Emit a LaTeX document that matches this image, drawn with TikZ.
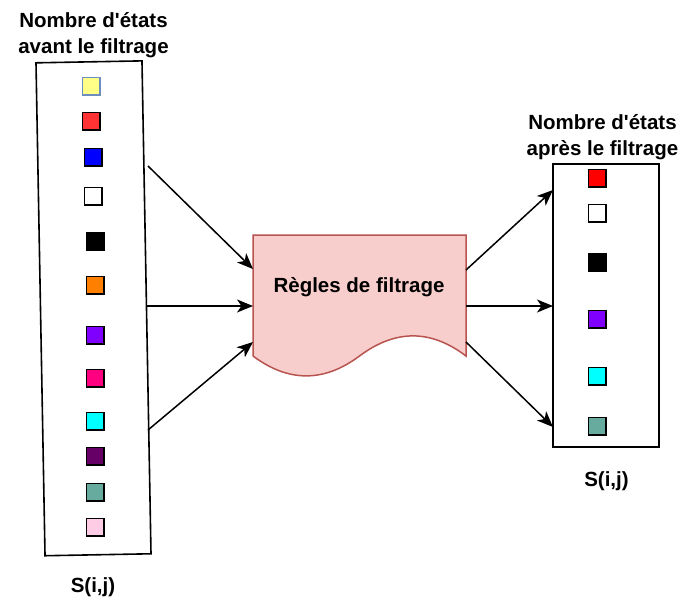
\documentclass[tikz,border=0pt]{standalone}
\usepackage{fontspec}
\setmainfont{Liberation Sans}
\usetikzlibrary{arrows.meta}
\definecolor{docfill}{HTML}{F8CECC}
\definecolor{docdraw}{HTML}{B85450}
\definecolor{cyel}{HTML}{FFFF88}
\definecolor{cyelb}{HTML}{6C8EBF}
\definecolor{cred}{HTML}{FF3333}
\definecolor{cred2}{HTML}{FF0000}
\definecolor{cblue}{HTML}{0000FF}
\definecolor{corange}{HTML}{FF8000}
\definecolor{cpurple}{HTML}{7F00FF}
\definecolor{cmag}{HTML}{FF0080}
\definecolor{ccyan}{HTML}{00FFFF}
\definecolor{cdpurple}{HTML}{660066}
\definecolor{cteal}{HTML}{67AB9F}
\definecolor{cpink}{HTML}{FFCCE6}
\tikzset{
  sq/.style={draw=black, line width=1.5pt, minimum size=17.5pt, inner sep=0pt},
  lbl/.style={font=\fontsize{20.5}{26}\selectfont\bfseries, align=center, inner sep=0pt},
  arr/.style={line width=1.5pt, -{Stealth[length=16pt,width=13pt,inset=4.5pt]}},
  boxst/.style={draw=black, line width=1.6pt, fill=white, inner sep=0pt}
}
\begin{document}
\begin{tikzpicture}[x=1pt,y=-1pt]
\useasboundingbox (0,0) rectangle (689,603);
% left box (slightly rotated)
\node[boxst, minimum width=106pt, minimum height=493pt, rotate=1.05] (lbox) at (93.5,308.3) {};
% right box
\node[boxst, minimum width=106pt, minimum height=283pt] (rbox) at (606,305.5) {};
% document shape
\path[draw=docdraw, fill=docfill, line width=1.5pt]
  (253,235) coordinate (dtl) -- (466,235) coordinate (dtr) -- (466,356)
  .. controls (430.8,329.2) and (395.3,329.2) .. (359.5,356)
  .. controls (324,382.5) and (288.5,382.5) .. (253,356) -- cycle;
\node[lbl] (doc) at (359,287) {Règles de filtrage};
% labels
\node[lbl] (tl) at (93.5,35) {Nombre d\textquotesingle états\\avant le filtrage};
\node[lbl] (tr) at (602.5,137) {Nombre d\textquotesingle états\\après le filtrage};
\node[lbl] (sl) at (93,587) {S(i,j)};
\node[lbl] (sr) at (606.5,481) {S(i,j)};
% left squares
\node[sq, draw=cyelb, fill=cyel] (a1) at (91,86) {};
\node[sq, fill=cred] (a2) at (91,121) {};
\node[sq, fill=cblue] (a3) at (93,157) {};
\node[sq, fill=white] (a4) at (93,196) {};
\node[sq, fill=black] (a5) at (95,241) {};
\node[sq, fill=corange] (a6) at (95,285) {};
\node[sq, fill=cpurple] (a7) at (95,335) {};
\node[sq, fill=cmag] (a8) at (95,378) {};
\node[sq, fill=ccyan] (a9) at (95,421) {};
\node[sq, fill=cdpurple] (a10) at (95,456) {};
\node[sq, fill=cteal] (a11) at (95,492) {};
\node[sq, fill=cpink] (a12) at (95,527) {};
% right squares
\node[sq, fill=cred2] (b1) at (597,178) {};
\node[sq, fill=white] (b2) at (597,213) {};
\node[sq, fill=black] (b3) at (597,262) {};
\node[sq, fill=cpurple] (b4) at (597,319) {};
\node[sq, fill=ccyan] (b5) at (597,376) {};
\node[sq, fill=cteal] (b6) at (597,426) {};
% connector anchors
\coordinate (l1) at (148,166);
\coordinate (l2) at (147,306);
\coordinate (l3) at (148,430);
\coordinate (d1) at (253,269);
\coordinate (d2) at (253,306);
\coordinate (d3) at (253,342);
\coordinate (e1) at (466,270);
\coordinate (e2) at (466,306);
\coordinate (e3) at (466,342);
\coordinate (r1) at (553,190);
\coordinate (r2) at (553,306);
\coordinate (r3) at (553,427);
\draw[arr] (l1) -- (d1);
\draw[arr] (l2) -- (d2);
\draw[arr] (l3) -- (d3);
\draw[arr] (e1) -- (r1);
\draw[arr] (e2) -- (r2);
\draw[arr] (e3) -- (r3);
\end{tikzpicture}
\end{document}
